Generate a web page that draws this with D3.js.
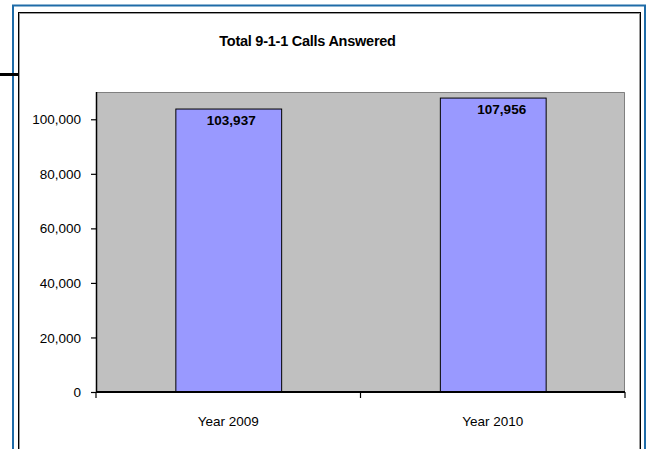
<!DOCTYPE html>
<html>
<head>
<meta charset="utf-8">
<script src="https://cdn.jsdelivr.net/npm/d3@7"></script>
<style>
  html, body { margin: 0; padding: 0; background: #ffffff; }
  svg { display: block; }
  text { font-family: "Liberation Sans", Arial, sans-serif; fill: #000; }
</style>
</head>
<body>
<svg id="chart" width="649" height="449"></svg>
<script>
// Chart data
const categories = ["Year 2009", "Year 2010"];
const callsAnswered = [103937, 107956];
const yTicks = [0, 20000, 40000, 60000, 80000, 100000];
const titleText = "Total 9-1-1 Calls Answered";

const svg = d3.select("#chart");
const W = 649, H = 449;

// Outer blue frame and inner bordered panel
svg.append("rect")
  .attr("x", 13).attr("y", 5.5).attr("width", 632).attr("height", 460)
  .attr("fill", "none").attr("stroke", "#1f6ca8").attr("stroke-width", 2);
svg.append("rect")
  .attr("x", 18.5).attr("y", 12.5).attr("width", 622).attr("height", 450)
  .attr("fill", "#fff").attr("stroke", "#000").attr("stroke-width", 1);
svg.append("rect")
  .attr("x", 19.5).attr("y", 13.5).attr("width", 620).attr("height", 450)
  .attr("fill", "none").attr("stroke", "#9a9a9a").attr("stroke-width", 1);

// Short connector stub on the left edge
svg.append("line")
  .attr("x1", 0).attr("x2", 18).attr("y1", 74.5).attr("y2", 74.5)
  .attr("stroke", "#000").attr("stroke-width", 3);

// Plot geometry
const plot = { left: 96, right: 625, top: 92, bottom: 392 };

const x = d3.scaleBand()
  .domain(categories)
  .range([plot.left, plot.right])
  .paddingInner(0.6)
  .paddingOuter(0.3);

const y = d3.scaleLinear()
  .domain([0, 110000])
  .range([plot.bottom, plot.top]);

// Plot background
svg.append("rect")
  .attr("x", plot.left).attr("y", plot.top)
  .attr("width", plot.right - plot.left).attr("height", plot.bottom - plot.top)
  .attr("fill", "#c0c0c0");
svg.append("path")
  .attr("d", `M${plot.left},${plot.top + 0.5}H${plot.right - 0.5}V${plot.bottom}`)
  .attr("fill", "none").attr("stroke", "#808080").attr("stroke-width", 1);

// Bars
svg.append("g").selectAll("rect")
  .data(categories)
  .join("rect")
  .attr("x", d => x(d) + 0.5)
  .attr("y", (d, i) => y(callsAnswered[i]) + 0.5)
  .attr("width", x.bandwidth())
  .attr("height", (d, i) => y(0) - y(callsAnswered[i]))
  .attr("fill", "#9999ff")
  .attr("stroke", "#000")
  .attr("stroke-width", 1);

// Value labels inside the bar tops
const labelShift = [3, 9];
const fmt = d3.format(",");
svg.append("g").selectAll("text")
  .data(categories)
  .join("text")
  .attr("x", (d, i) => x(d) + x.bandwidth() / 2 + labelShift[i])
  .attr("y", (d, i) => y(callsAnswered[i]) + 16)
  .attr("text-anchor", "middle")
  .attr("font-size", "13.5px")
  .attr("font-weight", "bold")
  .text((d, i) => fmt(callsAnswered[i]));

// Y axis
const yAxis = d3.axisLeft(y)
  .tickValues(yTicks)
  .tickFormat(fmt)
  .tickSize(5)
  .tickPadding(10);
const gy = svg.append("g")
  .attr("transform", `translate(${plot.left},0)`)
  .call(yAxis);
gy.select(".domain")
  .attr("d", `M0.5,${plot.top}V${plot.bottom}`)
  .attr("stroke", "#000").attr("stroke-width", 1.5);
gy.selectAll(".tick line").attr("stroke", "#000").attr("stroke-width", 1.2);
gy.selectAll(".tick text")
  .attr("font-size", "13.5px")
  .attr("font-family", "Liberation Sans, Arial, sans-serif")
  .attr("fill", "#000")
  .attr("dy", "0.34em");

// X axis: baseline, boundary ticks and category labels
const xg = svg.append("g");
xg.append("line")
  .attr("x1", plot.left).attr("x2", plot.right)
  .attr("y1", plot.bottom).attr("y2", plot.bottom)
  .attr("stroke", "#000").attr("stroke-width", 2);
const boundaries = d3.range(categories.length + 1)
  .map(i => x.range()[0] + i * x.step());
xg.selectAll("line.bt")
  .data(boundaries)
  .join("line")
  .attr("class", "bt")
  .attr("x1", d => d).attr("x2", d => d)
  .attr("y1", plot.bottom).attr("y2", plot.bottom + 6)
  .attr("stroke", "#000").attr("stroke-width", 1.2);
xg.selectAll("text")
  .data(categories)
  .join("text")
  .attr("x", d => x(d) + x.bandwidth() / 2)
  .attr("y", 425.5)
  .attr("text-anchor", "middle")
  .attr("font-size", "13.5px")
  .text(d => d);

// Title
svg.append("text")
  .attr("x", 307.5).attr("y", 45.5)
  .attr("text-anchor", "middle")
  .attr("font-size", "14.5px")
  .attr("font-weight", "bold")
  .attr("letter-spacing", "-0.25px")
  .text(titleText);
</script>
</body>
</html>
